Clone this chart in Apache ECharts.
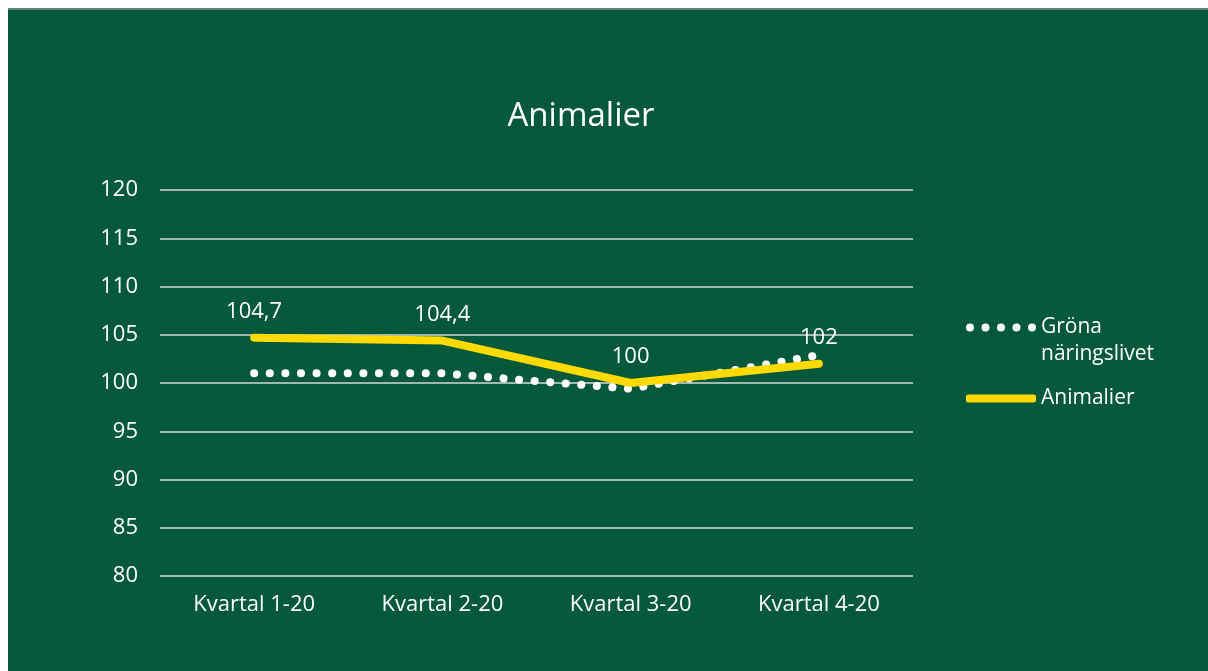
<!DOCTYPE html>
<html>
<head>
    <meta charset='utf-8'>
    <script src="https://cdn.jsdelivr.net/npm/echarts@6/dist/echarts.min.js"></script>
</head>
<body>
<style>
    html, body {
        width: 100%;
        height: 100%;
        margin: 0;
        padding: 0;
        background: #fff;
    }
    #main {
        position: absolute;
        left: 8px;
        top: 8px;
        width: 1200px;
        height: 663px;
        border-top: 2px solid #5f8473;
        box-sizing: border-box;
    }
</style>
<div id="main"></div>
<script>
    var categories = ['Kvartal 1-20', 'Kvartal 2-20', 'Kvartal 3-20', 'Kvartal 4-20'];
    var gronaNaringslivet = [101, 101, 99.4, 102.9];
    var animalier = [104.7, 104.4, 100, 102];
    var yTicks = [80, 85, 90, 95, 100, 105, 110, 115, 120];

    var font = 'Open Sans';
    // five dots on top of a 70x35 box, so the first text line sits beside them
    var dotsIcon = 'path://M0,4a4,4 0 1,0 8,0a4,4 0 1,0 -8,0Z' +
        'M15.5,4a4,4 0 1,0 8,0a4,4 0 1,0 -8,0Z' +
        'M31,4a4,4 0 1,0 8,0a4,4 0 1,0 -8,0Z' +
        'M46.5,4a4,4 0 1,0 8,0a4,4 0 1,0 -8,0Z' +
        'M62,4a4,4 0 1,0 8,0a4,4 0 1,0 -8,0Z' +
        'M0,35L0.01,35Z';

    var chart = echarts.init(document.getElementById('main'));

    var legendBase = {
        orient: 'vertical',
        left: 958,
        padding: 0,
        itemWidth: 70,
        itemHeight: 8,
        textStyle: {color: '#fff', fontSize: 21, lineHeight: 27, fontFamily: font}
    };

    chart.setOption({
        backgroundColor: '#03593a',
        textStyle: {fontFamily: font},
        title: {
            text: 'Animalier',
            left: 568,
            top: 82,
            textAlign: 'center',
            textStyle: {color: '#fff', fontSize: 33, lineHeight: 40, fontWeight: 'normal', fontFamily: font}
        },
        legend: [
            echarts.util.merge({
                top: 304,
                itemHeight: 35,
                data: [{name: 'Gröna\nnäringslivet', icon: dotsIcon}]
            }, legendBase),
            echarts.util.merge({
                top: 375,
                data: [{name: 'Animalier', icon: 'roundRect'}]
            }, legendBase)
        ],
        grid: {
            left: 152,
            right: 295,
            top: 180,
            bottom: 95
        },
        xAxis: {
            type: 'category',
            data: categories,
            axisLine: {show: false},
            axisTick: {show: false},
            axisLabel: {color: '#fff', fontSize: 22, margin: 18, fontFamily: font}
        },
        yAxis: {
            type: 'value',
            min: yTicks[0],
            max: yTicks[yTicks.length - 1],
            interval: 5,
            axisLabel: {color: '#fff', fontSize: 22, margin: 22, fontFamily: font},
            splitLine: {lineStyle: {color: '#d9d9d9', width: 1.5}}
        },
        series: [{
            name: 'Gröna\nnäringslivet',
            type: 'line',
            data: gronaNaringslivet,
            symbol: 'none',
            color: '#fff',
            lineStyle: {color: '#fff', width: 8, type: [0.1, 15.5], cap: 'round'},
            z: 2
        }, {
            name: 'Animalier',
            type: 'line',
            data: animalier,
            symbol: 'circle',
            symbolSize: 0.1,
            color: '#ffda00',
            lineStyle: {color: '#ffda00', width: 8, cap: 'round'},
            label: {
                show: true,
                position: 'top',
                distance: 15,
                color: '#fff',
                fontSize: 22,
                fontFamily: font,
                formatter: function (p) {
                    return String(p.value).replace('.', ',');
                }
            },
            z: 3
        }]
    });
</script>
</body>
</html>
